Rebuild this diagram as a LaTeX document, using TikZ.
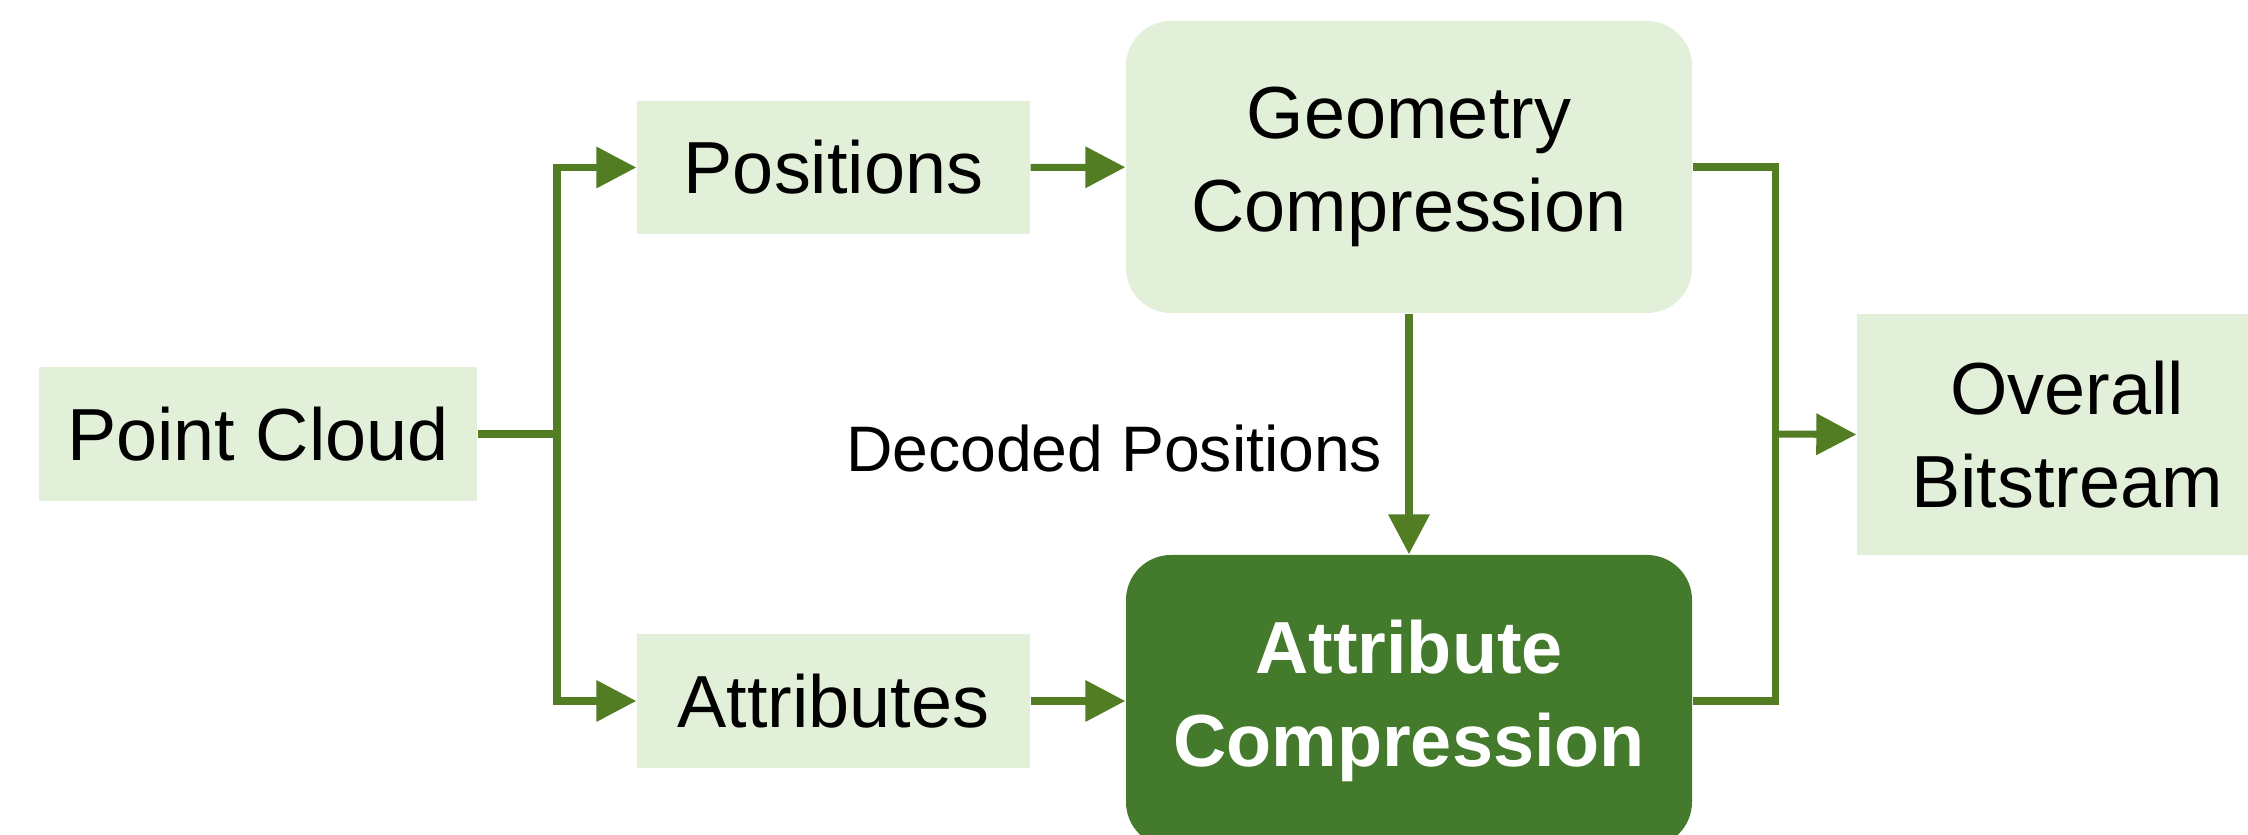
\documentclass[tikz,border=0pt]{standalone}
\usepackage{fontspec}
\setmainfont{Liberation Sans}
\usepackage{tikz}
\usetikzlibrary{arrows.meta}

\definecolor{boxlight}{HTML}{E2F0D9}
\definecolor{boxdark}{HTML}{447A2C}
\definecolor{flow}{HTML}{527D23}

\tikzset{
    block/.style={fill=boxlight, inner sep=0pt, align=center, font=\fontsize{21}{26.5}\selectfont},
    roundblock/.style={block, rounded corners=0.45cm, minimum width=5.66cm, minimum height=2.92cm},
    line/.style={draw=flow, line width=2pt},
    arrow/.style={line, -{Triangle[length=0.4cm, width=0.4cm]}}
}

\begin{document}
\begin{tikzpicture}
    \useasboundingbox (0, 0) rectangle (22.48, -8.35); % keeps the page at the reference size
    \node[block, minimum width=4.38cm, minimum height=1.34cm] (cloud) at (2.58, -4.34) {Point Cloud};
    \node[block, minimum width=3.93cm, minimum height=1.33cm] (positions) at (8.335, -1.675) {Positions};
    \node[block, minimum width=3.93cm, minimum height=1.34cm] (attributes) at (8.335, -7.01) {Attributes};
    \node[roundblock] (geometry) at (14.09, -1.67) {Geometry\\Compression};
    \node[roundblock, fill=boxdark, text=white, font=\fontsize{21}{26.5}\selectfont\bfseries] (attrcomp) at (14.09, -7.01) {Attribute\\Compression};
    \node[block, minimum width=4.2cm, minimum height=2.41cm] (bitstream) at (20.67, -4.345) {Overall\\Bitstream};
    \node[font=\fontsize{18.3}{22}\selectfont, anchor=east, inner sep=0pt] (decoded) at (13.83, -4.49) {Decoded Positions};

    \coordinate (split) at (5.57, -4.34); % left branching point
    \coordinate (join) at (17.75, -4.34); % right merging point

    \draw[line] (cloud.east) -- (split);
    \draw[arrow] (split) |- (positions.west);
    \draw[arrow] (split) |- (attributes.west);
    \draw[arrow] (positions) -- (geometry);
    \draw[arrow] (attributes) -- (attrcomp);
    \draw[arrow] (geometry.south) -- (attrcomp.north);
    \draw[line] (geometry.east) -| (join);
    \draw[line] (attrcomp.east) -| (join);
    \draw[arrow] (join) -- (bitstream.west);
\end{tikzpicture}
\end{document}
